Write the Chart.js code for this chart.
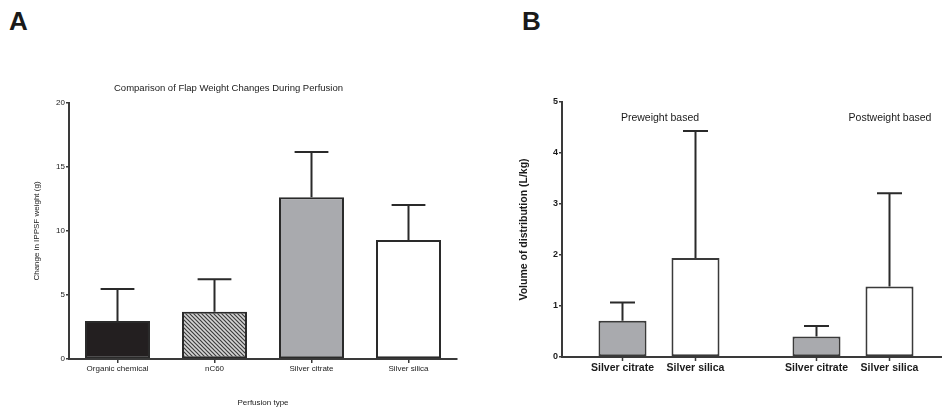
<!DOCTYPE html>
<html>
<head>
<meta charset="utf-8">
<script src="https://cdn.jsdelivr.net/npm/chart.js@4.4.1/dist/chart.umd.min.js"></script>
<style>
html,body{margin:0;padding:0;background:#fff;width:942px;height:413px;overflow:hidden;position:relative}
.panel{position:absolute;font:bold 26px "Liberation Sans",Arial,sans-serif;line-height:26px;color:#1a1a1a}
#ca{position:absolute;left:0;top:0}
#cb{position:absolute;left:500px;top:0}
</style>
</head>
<body>
<div class="panel" style="left:9px;top:8px">A</div>
<div class="panel" style="left:522px;top:8px">B</div>
<canvas id="ca" width="524" height="413"></canvas>
<canvas id="cb" width="450" height="413"></canvas>
<script>
// ---------- Panel A data ----------
const flapCategories = ['Organic chemical', 'nC60', 'Silver citrate', 'Silver silica'];
const flapMeans = [2.97, 3.70, 12.63, 9.30];
const flapSD = [2.50, 2.53, 3.54, 2.73];
const flapTicks = [0, 5, 10, 15, 20];

// ---------- Panel B data ----------
const vdGroups = ['Preweight based', 'Postweight based'];
const vdCitrate = [0.71, 0.40];
const vdCitrateSD = [0.36, 0.21];
const vdSilica = [1.94, 1.38];
const vdSilicaSD = [2.49, 1.83];
const vdTicks = [0, 1, 2, 3, 4, 5];

const FONT = '"Liberation Sans", Arial, sans-serif';
const AXIS = '#3a3a3a';

function hatchPattern() {
  const c = document.createElement('canvas');
  c.width = 4; c.height = 4;
  const g = c.getContext('2d');
  g.fillStyle = '#d4d4d4';
  g.fillRect(0, 0, 4, 4);
  g.strokeStyle = '#3c3c3c';
  g.lineWidth = 1.2;
  g.beginPath();
  g.moveTo(0, 0); g.lineTo(4, 4);
  g.moveTo(-1, 3); g.lineTo(1, 5);
  g.moveTo(3, -1); g.lineTo(5, 1);
  g.stroke();
  return g.createPattern(c, 'repeat');
}

const errorBars = {
  id: 'errorBars',
  afterDatasetsDraw(chart) {
    const ctx = chart.ctx;
    const ys = chart.scales.y;
    chart.data.datasets.forEach((ds, i) => {
      if (!ds.errors) return;
      const meta = chart.getDatasetMeta(i);
      meta.data.forEach((el, j) => {
        const top = ys.getPixelForValue(ds.data[j] + ds.errors[j]);
        const half = el.width * 0.26;
        ctx.save();
        ctx.strokeStyle = '#2a2a2a';
        ctx.lineWidth = 2;
        ctx.beginPath();
        ctx.moveTo(el.x, el.y);
        ctx.lineTo(el.x, top);
        ctx.moveTo(el.x - half, top);
        ctx.lineTo(el.x + half, top);
        ctx.stroke();
        ctx.restore();
      });
    });
  }
};

// ---------- Chart A ----------
new Chart(document.getElementById('ca'), {
  type: 'bar',
  data: {
    labels: flapCategories,
    datasets: [{
      data: flapMeans,
      errors: flapSD,
      backgroundColor: ['#231f20', hatchPattern(), '#a9aaae', '#ffffff'],
      borderColor: '#2a2a2a',
      borderWidth: 2,
      borderSkipped: false,
      barPercentage: 0.67,
      categoryPercentage: 1
    }]
  },
  options: {
    responsive: false,
    devicePixelRatio: 1,
    animation: false,
    layout: { padding: { left: 0, right: 67, top: 0, bottom: 0 } },
    plugins: {
      legend: { display: false },
      tooltip: { enabled: false },
      title: {
        display: true,
        text: 'Comparison of Flap Weight Changes During Perfusion',
        color: '#1a1a1a',
        font: { family: FONT, size: 9.5, weight: 'normal' },
        padding: { top: 82.3, bottom: 9.3 }
      }
    },
    scales: {
      x: {
        afterFit(s) { s.height = 54; },
        border: { display: true, color: AXIS, width: 2 },
        grid: { display: true, drawOnChartArea: false, drawTicks: true, tickLength: 4, offset: false, color: AXIS, lineWidth: 1.5 },
        ticks: { color: '#1a1a1a', font: { family: FONT, size: 8 }, padding: 1, maxRotation: 0 },
        title: { display: true, text: 'Perfusion type', color: '#1a1a1a', font: { family: FONT, size: 8 }, padding: { top: 0, bottom: 5 } }
      },
      y: {
        min: 0, max: 20,
        afterFit(s) { s.width = 69; },
        afterBuildTicks(s) { s.ticks = flapTicks.map(v => ({ value: v })); },
        border: { display: true, color: AXIS, width: 2 },
        grid: { display: true, drawOnChartArea: false, drawTicks: true, tickLength: 3, color: AXIS, lineWidth: 1.5 },
        ticks: { color: '#1a1a1a', font: { family: FONT, size: 8 }, padding: 1 },
        title: { display: true, text: 'Change in IPPSF weight (g)', color: '#1a1a1a', font: { family: FONT, size: 8 }, padding: { top: 32, bottom: 0 } }
      }
    }
  },
  plugins: [errorBars]
});

// ---------- Chart B ----------
const barLabels = {
  id: 'barLabels',
  afterDraw(chart) {
    const ctx = chart.ctx;
    const xs = chart.scales.x;
    ctx.save();
    chart.data.datasets.forEach((ds, i) => {
      const meta = chart.getDatasetMeta(i);
      meta.data.forEach(el => {
        ctx.strokeStyle = AXIS;
        ctx.lineWidth = 1.5;
        ctx.beginPath();
        ctx.moveTo(el.x, xs.top);
        ctx.lineTo(el.x, xs.top + 4);
        ctx.stroke();
        ctx.fillStyle = '#1a1a1a';
        ctx.font = 'bold 10.5px ' + FONT;
        ctx.textAlign = 'center';
        ctx.textBaseline = 'middle';
        ctx.fillText(ds.label, el.x, xs.top + 11);
      });
    });
    // group captions above the bars
    ctx.font = '10.5px ' + FONT;
    ctx.fillStyle = '#1a1a1a';
    ctx.textAlign = 'center';
    ctx.textBaseline = 'middle';
    const yCap = chart.chartArea.top + 16;
    vdGroups.forEach((g, k) => {
      const cx = xs.getPixelForValue(k) + (k === 0 ? 1 : 37);
      ctx.fillText(g, cx, yCap);
    });
    ctx.restore();
  }
};

new Chart(document.getElementById('cb'), {
  type: 'bar',
  data: {
    labels: vdGroups,
    datasets: [
      { label: 'Silver citrate', data: vdCitrate, errors: vdCitrateSD, backgroundColor: '#a9aaae' },
      { label: 'Silver silica', data: vdSilica, errors: vdSilicaSD, backgroundColor: '#ffffff' }
    ].map(d => Object.assign(d, {
      borderColor: '#3a3a3a', borderWidth: 2, borderSkipped: false,
      barPercentage: 0.658, categoryPercentage: 0.7526
    }))
  },
  options: {
    responsive: false,
    devicePixelRatio: 1,
    animation: false,
    layout: { padding: { left: 0, right: 0, top: 102, bottom: 0 } },
    plugins: { legend: { display: false }, tooltip: { enabled: false }, title: { display: false } },
    scales: {
      x: {
        afterFit(s) { s.height = 56; },
        border: { display: true, color: AXIS, width: 2 },
        grid: { display: false },
        ticks: { display: false }
      },
      y: {
        min: 0, max: 5,
        afterFit(s) { s.width = 62; },
        afterBuildTicks(s) { s.ticks = vdTicks.map(v => ({ value: v })); },
        border: { display: true, color: AXIS, width: 2 },
        grid: { display: true, drawOnChartArea: false, drawTicks: true, tickLength: 3, color: AXIS, lineWidth: 1.5 },
        ticks: { color: '#1a1a1a', font: { family: FONT, size: 9, weight: 'bold' }, padding: 1 },
        title: { display: true, text: 'Volume of distribution (L/kg)', color: '#1a1a1a', font: { family: FONT, size: 10.5, weight: 'bold' }, padding: { top: 18, bottom: 0 } }
      }
    }
  },
  plugins: [errorBars, barLabels]
});
</script>
</body>
</html>
